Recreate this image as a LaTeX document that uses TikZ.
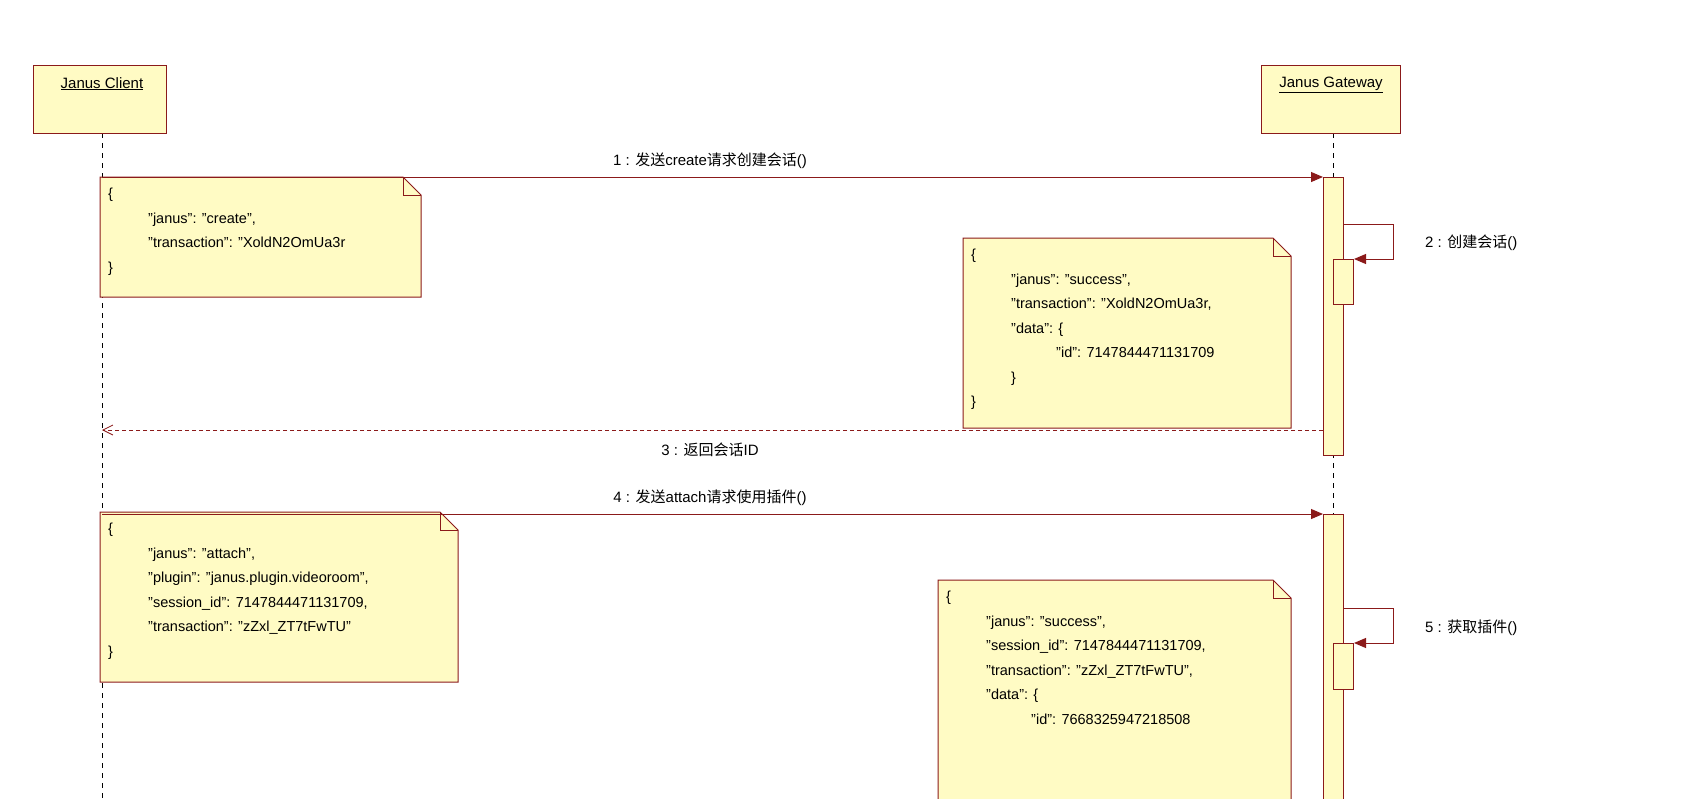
\documentclass[tikz,border=0pt]{standalone}
\usepackage{fontspec}
\setmainfont[Ligatures=NoCommon]{Liberation Sans}
\newfontfamily\cjk{Noto Sans CJK SC}
\usetikzlibrary{arrows.meta}
\definecolor{ln}{HTML}{8B1A1A}
\definecolor{nt}{HTML}{FFFBC4}
\newcommand{\dq}{\char34\relax}
\begin{document}
\begin{tikzpicture}[x=1pt,y=-1pt,
  lbl/.style={font=\fontsize{15}{17}\selectfont,inner sep=0pt},
  txt/.style={font=\fontsize{14.5}{24.5}\selectfont,align=left,anchor=north west,inner sep=0pt},
  obj/.style={draw=ln,fill=nt,line width=1pt},
  life/.style={dash pattern=on 5pt off 5pt,line width=0.8pt},
  msg/.style={draw=ln,line width=1pt,-{Triangle[length=12pt,width=10pt]}},
  ret/.style={draw=ln,line width=0.8pt,dash pattern=on 4pt off 3pt,-{Straight Barb[length=10pt,width=10pt]}}]
\useasboundingbox[fill=white] (0,0) rectangle (1692,798);
% lifelines
\draw[life] (102,133) coordinate (cl1) -- (102,798) coordinate (cl2);
\draw[life] (1333,133) -- (1333,798);
% objects
\node[obj,minimum width=133pt,minimum height=68pt,anchor=north west] (client) at (33,65) {};
\node[lbl,anchor=north] (clientl) at (102,77) {\underline{Janus Client}};
\node[obj,minimum width=139pt,minimum height=68pt,anchor=north west] (gw) at (1261,65) {};
\node[lbl,anchor=north] (gwl) at (1331,77) {\underline{Janus Gateway}};
% activations
\node[obj,minimum width=20pt,minimum height=278pt,anchor=north west,inner sep=0pt] (act1) at (1323,177) {};
\node[obj,minimum width=20pt,minimum height=45pt,anchor=north west,inner sep=0pt] (sa1) at (1333,259) {};
\node[obj,minimum width=20pt,minimum height=298pt,anchor=north west,inner sep=0pt] (act2) at (1323,514) {};
\node[obj,minimum width=20pt,minimum height=46pt,anchor=north west,inner sep=0pt] (sa2) at (1333,643) {};
% notes
\newcommand{\jnote}[5]{%
 \draw[obj] (#1,#2) -- (#3-18,#2) -- (#3,#2+18) -- (#3,#4) -- (#1,#4) -- cycle;
 \draw[draw=ln,line width=0.8pt] (#3-18,#2) -- (#3-18,#2+18) -- (#3,#2+18);
 \node[txt] at (#1+8,#2+11) {#5};}
\jnote{100}{177}{421}{297}{\{\\\hspace{40pt}\dq janus\dq: \dq create\dq,\\\hspace{40pt}\dq transaction\dq: \dq XoldN2OmUa3r\\\}}
\jnote{963}{238}{1291}{428}{\{\\\hspace{40pt}\dq janus\dq: \dq success\dq,\\\hspace{40pt}\dq transaction\dq: \dq XoldN2OmUa3r,\\\hspace{40pt}\dq data\dq: \{\\\hspace{85pt}\dq id\dq: 7147844471131709\\\hspace{40pt}\}\\\}}
\jnote{100}{512}{458}{682}{\{\\\hspace{40pt}\dq janus\dq: \dq attach\dq,\\\hspace{40pt}\dq plugin\dq: \dq janus.plugin.videoroom\dq,\\\hspace{40pt}\dq session\_id\dq: 7147844471131709,\\\hspace{40pt}\dq transaction\dq: \dq zZxl\_ZT7tFwTU\dq\\\}}
\jnote{938}{580}{1291}{820}{\{\\\hspace{40pt}\dq janus\dq: \dq success\dq,\\\hspace{40pt}\dq session\_id\dq: 7147844471131709,\\\hspace{40pt}\dq transaction\dq: \dq zZxl\_ZT7tFwTU\dq,\\\hspace{40pt}\dq data\dq: \{\\\hspace{85pt}\dq id\dq: 7668325947218508}
% messages
\coordinate (m1s) at (102,177);
\draw[msg] (m1s) -- (act1.north west);
\node[lbl] (l1) at (710,161) {1 : {\cjk 发送}create{\cjk 请求创建会话}()};
\draw[msg] (1343,224) -- (1393,224) -- (1393,259) -- (sa1.north east);
\node[lbl,anchor=west] (l2) at (1425,243) {2 : {\cjk 创建会话}()};
\coordinate (m3e) at (102,430);
\draw[ret] (1323,430) -- (m3e);
\node[lbl] (l3) at (710,450) {3 : {\cjk 返回会话}ID};
\coordinate (m4s) at (102,514);
\draw[msg] (m4s) -- (act2.north west);
\node[lbl] (l4) at (710,498) {4 : {\cjk 发送}attach{\cjk 请求使用插件}()};
\draw[msg] (1343,608) -- (1393,608) -- (1393,643) -- (sa2.north east);
\node[lbl,anchor=west] (l5) at (1425,628) {5 : {\cjk 获取插件}()};
\end{tikzpicture}
\end{document}
